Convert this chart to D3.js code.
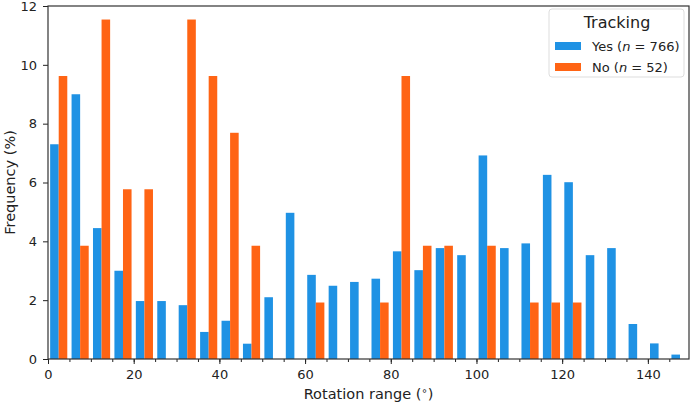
<!DOCTYPE html>
<html>
<head>
<meta charset="utf-8">
<script src="https://cdn.jsdelivr.net/npm/d3@7"></script>
<style>
  body { margin: 0; background: #fff; }
  text { font-family: "DejaVu Sans", sans-serif; fill: #222; }
</style>
</head>
<body>
<div id="chart-area"></div>
<script>
// bin lower edges (degrees), width 5
let binStart = d3.range(0, 150, 5);
let binWidth = 5;

// Tracking = Yes (n = 766), percent per bin
let yesFreq = [7.3, 9.0, 4.45, 3.0, 1.97, 1.97, 1.83, 0.92, 1.3, 0.52,
               2.1, 4.97, 2.86, 2.49, 2.62, 2.73, 3.66, 3.02, 3.77, 3.53,
               6.92, 3.77, 3.93, 6.26, 6.01, 3.53, 3.77, 1.19, 0.53, 0.15];
// Tracking = No (n = 52), percent per bin
let noFreq = [9.62, 3.85, 11.54, 5.77, 5.77, 0, 11.54, 9.62, 7.69, 3.85,
              0, 0, 1.92, 0, 0, 1.92, 9.62, 3.85, 3.85, 0,
              3.85, 0, 1.92, 1.92, 1.92, 0, 0, 0, 0, 0];

let series = [{"name": "Yes", "n": 766, "values": yesFreq, "color": "#1f92e4"},
              {"name": "No", "n": 52, "values": noFreq, "color": "#ff6414"}];

let xTicks = [0, 20, 40, 60, 80, 100, 120, 140];
let yTicks = [0, 2, 4, 6, 8, 10, 12];

const width = 692, height = 404;
const margin = {top: 6, right: 3, bottom: 45, left: 48};

const svg = d3.select('#chart-area').append('svg')
    .attr('width', width).attr('height', height);

const x = d3.scaleLinear().domain([0, 149.6]).range([margin.left, width - margin.right]);
const y = d3.scaleLinear().domain([0, 12]).range([height - margin.bottom, margin.top]);

// bars: rwidth 0.8, two series side by side
const barW = binWidth * 0.8 / 2;
series.forEach(function(s, si){
  svg.append('g').selectAll('rect')
    .data(binStart.map((b, i) => ({start: b, v: s.values[i]})))
    .join('rect')
    .attr('x', d => x(d.start + binWidth * 0.1 + si * barW))
    .attr('width', d => x(barW) - x(0))
    .attr('y', d => y(d.v))
    .attr('height', d => y(0) - y(d.v))
    .attr('fill', s.color);
});

// minor ticks every 5
svg.append('g').attr('transform', `translate(0,${y(0)})`)
  .call(d3.axisBottom(x).tickValues(d3.range(0, 150, 5)).tickSize(3).tickFormat(''))
  .call(g => g.select('.domain').remove())
  .call(g => g.selectAll('line').attr('stroke', '#222'));

// x axis
svg.append('g').attr('transform', `translate(0,${y(0)})`)
  .call(d3.axisBottom(x).tickValues(xTicks).tickSize(5).tickPadding(6))
  .call(g => g.select('.domain').remove())
  .call(g => g.selectAll('line').attr('stroke', '#222'))
  .call(g => g.selectAll('text').attr('font-size', 13));

// y axis
svg.append('g').attr('transform', `translate(${margin.left},0)`)
  .call(d3.axisLeft(y).tickValues(yTicks).tickSize(5).tickPadding(6))
  .call(g => g.select('.domain').remove())
  .call(g => g.selectAll('line').attr('stroke', '#222'))
  .call(g => g.selectAll('text').attr('font-size', 13));

// frame
svg.append('rect')
  .attr('x', margin.left).attr('y', margin.top)
  .attr('width', width - margin.right - margin.left)
  .attr('height', y(0) - margin.top)
  .attr('fill', 'none').attr('stroke', '#333').attr('stroke-width', 1.2);

// axis labels
const xl = svg.append('text')
  .attr('x', (margin.left + width - margin.right) / 2).attr('y', 399)
  .attr('text-anchor', 'middle').attr('font-size', 14.5);
xl.append('tspan').text('Rotation range (');
xl.append('tspan').attr('dy', -5).attr('font-size', 10).text('∘');
xl.append('tspan').attr('dy', 5).text(')');

svg.append('text')
  .attr('transform', `translate(15,${(margin.top + y(0)) / 2}) rotate(-90)`)
  .attr('text-anchor', 'middle').attr('font-size', 14.5)
  .text('Frequency (%)');

// legend
const lg = svg.append('g').attr('transform', 'translate(549,9)');
lg.append('rect').attr('width', 135).attr('height', 68).attr('rx', 3)
  .attr('fill', '#fff').attr('fill-opacity', 0.85).attr('stroke', '#ddd');
lg.append('text').attr('x', 68).attr('y', 19).attr('text-anchor', 'middle')
  .attr('font-size', 16).text('Tracking');
series.forEach(function(s, i){
  const row = lg.append('g').attr('transform', `translate(0,${33 + i * 21})`);
  row.append('rect').attr('x', 6).attr('y', 0).attr('width', 26).attr('height', 8).attr('fill', s.color);
  const t = row.append('text').attr('x', 43).attr('y', 9).attr('font-size', 13);
  t.append('tspan').text(s.name + ' (');
  t.append('tspan').attr('font-style', 'italic').text('n');
  t.append('tspan').text(' = ' + s.n + ')');
});
</script>
</body>
</html>
